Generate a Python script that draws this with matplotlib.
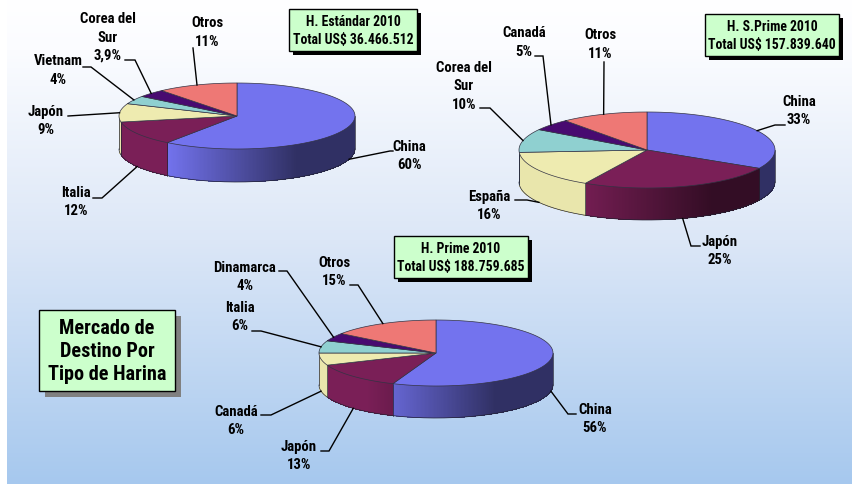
import matplotlib
matplotlib.use("Agg")
import matplotlib.pyplot as plt
from matplotlib.collections import PolyCollection
from matplotlib.colors import to_rgb
from matplotlib import font_manager
from matplotlib.patches import Rectangle
import numpy as np

# narrow bold face if the machine has one, else plain Liberation a bit smaller
have = {f.name for f in font_manager.fontManager.ttflist}
if "Roboto Condensed" in have:
    plt.rcParams['font.family'] = ['Roboto Condensed', 'DejaVu Sans']
    small, boxed, big = 10.6, 9.9, 14.6
else:
    plt.rcParams['font.family'] = ['Liberation Sans', 'DejaVu Sans']
    small, boxed, big = 9.0, 8.6, 12.5

# data
labels1 = ["China", "Italia", "Japón", "Vietnam", "Corea del\nSur", "Otros"]
shares1 = [60, 12, 9, 4, 3.9, 11]
texts1 = ["60%", "12%", "9%", "4%", "3,9%", "11%"]

labels2 = ["China", "Japón", "España", "Corea del\nSur", "Canadá", "Otros"]
shares2 = [33, 25, 16, 10, 5, 11]
texts2 = ["33%", "25%", "16%", "10%", "5%", "11%"]

labels3 = ["China", "Japón", "Canadá", "Italia", "Dinamarca", "Otros"]
shares3 = [56, 13, 6, 6, 4, 15]
texts3 = ["56%", "13%", "6%", "6%", "4%", "15%"]

box1 = "H. Estándar 2010\nTotal US$ 36.466.512"
box2 = "H. S.Prime 2010\nTotal US$ 157.839.640"
box3 = "H. Prime 2010\nTotal US$ 188.759.685"
box4 = "Mercado de\nDestino Por\nTipo de Harina"

colors = ["#7373ee", "#7a1f57", "#eeebb0", "#8fd0d0", "#480a70", "#ee7875"]

# layout, in pixels of the picture
# each label: text centre x, first line y, elbow x, elbow y, end x, end y
pos1 = [(409, 147, 390, 152, 393, 152), (76, 193, 102, 199, 93, 199), (46, 112, 68, 117, 68, 117),
        (58, 61, 91, 68, 83, 68), (108, 19, 135, 61, 125, 61), (207, 23, 193, 49, 193, 49)]
pos2 = [(799, 102, 775, 126, 785, 126), (720, 242, 691, 247, 700, 247), (489, 197, 527, 201, 515, 201),
        (464, 68, 490, 109, 480, 109), (524, 33, 543, 57, 535, 57), (600, 35, 604, 63, 604, 63)]
pos3 = [(595, 410, 568, 415, 576, 415), (299, 447, 329, 452, 321, 452), (236, 412, 271, 416, 261, 416),
        (240, 308, 261, 332, 252, 332), (245, 268, 287, 272, 279, 272), (334, 263, 358, 286, 350, 286)]


def shade(c, k):
    return tuple(v * k for v in to_rgb(c))


def pie3d(ax, shares, cx, cy, rx, ry, depth, labels, texts, pos):
    total = sum(shares)
    edges = np.cumsum([0] + shares) / total * 360
    px = lambda t: cx + rx * np.sin(np.radians(t))
    py = lambda t: cy - ry * np.cos(np.radians(t))

    # side wall, only the front half shows
    polys, cols = [], []
    for i, c in enumerate(colors):
        a, b = max(edges[i], 90), min(edges[i + 1], 270)
        if a >= b:
            continue
        t = np.linspace(a, b, int((b - a) * 1.5) + 2)
        for t0, t1 in zip(t[:-1], t[1:]):
            polys.append([(px(t0), py(t0)), (px(t1), py(t1)), (px(t1), py(t1) + depth), (px(t0), py(t0) + depth)])
            k = np.interp(np.sin(np.radians((t0 + t1) / 2)), [-0.6, 0.5], [1.0, 0.42])
            # the cream slices stay nearly flat in the original
            if c == colors[2]:
                k = 0.98
            cols.append(shade(c, k))
    ax.add_collection(PolyCollection(polys, facecolors=cols, edgecolors="none", antialiaseds=False, zorder=3))
    t = np.linspace(90, 270, 181)
    ax.plot(px(t), py(t) + depth, color="#222233", lw=0.5, zorder=4)
    ax.plot([px(90), px(90)], [py(90), py(90) + depth], color="#222233", lw=0.5, zorder=4)
    ax.plot([px(270), px(270)], [py(270), py(270) + depth], color="#222233", lw=0.5, zorder=4)
    for e in edges[1:-1]:
        if 90 < e < 270:
            ax.plot([px(e), px(e)], [py(e), py(e) + depth], color="#222233", lw=0.5, zorder=4)

    # top face
    for i, c in enumerate(colors):
        t = np.linspace(edges[i], edges[i + 1], 90)
        ax.fill(np.r_[cx, px(t)], np.r_[cy, py(t)], facecolor=c, edgecolor="#333344", lw=0.5, zorder=5)

    # labels and leader lines
    for i in range(len(shares)):
        x, y, ex, ey, fx, fy = pos[i]
        mid = (edges[i] + edges[i + 1]) / 2
        ay = py(mid)
        if 100 < mid < 265:
            ay = ay + depth
        ax.plot([px(mid), ex, fx], [ay, ey, fy], color="black", lw=1.0, zorder=6, solid_joinstyle="miter")
        lines = (labels[i] + "\n" + texts[i]).split("\n")
        for j, s in enumerate(lines):
            ax.text(x, y + j * 18.5, s, ha="center", va="center", fontsize=small, fontweight="bold", zorder=7)


def note(ax, text, x0, y0, x1, y1, step=18, size=None, shadow="black", off=4):
    ax.add_patch(Rectangle((x0 + off, y0 + off), x1 - x0, y1 - y0, facecolor=shadow, edgecolor="none", zorder=8))
    ax.add_patch(Rectangle((x0, y0), x1 - x0, y1 - y0, facecolor="#ccffcc", edgecolor="black", lw=1.0, zorder=9))
    lines = text.split("\n")
    mid = (y0 + y1) / 2 - (len(lines) - 1) * step / 2
    for j, s in enumerate(lines):
        ax.text((x0 + x1) / 2, mid + j * step, s, ha="center", va="center", fontsize=size or boxed,
                fontweight="bold", zorder=10)


fig = plt.figure(figsize=(8.52, 4.85), dpi=100)
ax = fig.add_axes([0, 0, 1, 1])

# page background
stops_y = [0, 50, 240, 485]
stops_c = np.array([to_rgb(c) for c in ["#ffffff", "#fbfcff", "#dce7f7", "#a6c8ee"]])
yy = np.arange(485)
grad = np.stack([np.interp(yy, stops_y, stops_c[:, j]) for j in range(3)], axis=1)[:, None, :]
ax.imshow(grad, extent=(7, 852, 485, 0), aspect="auto", zorder=0)
ax.set_xlim(0, 852)
ax.set_ylim(485, 0)
ax.axis("off")

pie3d(ax, shares1, 237, 117, 118, 33, 33, labels1, texts1, pos1)
pie3d(ax, shares2, 647, 151, 128, 38, 32, labels2, texts2, pos2)
pie3d(ax, shares3, 436, 354, 117, 33, 32, labels3, texts3, pos3)

note(ax, box1, 289, 10, 417, 52)
note(ax, box2, 705, 15, 839, 57)
note(ax, box3, 394, 237, 528, 279)
note(ax, box4, 39, 311, 175, 392, step=23, size=big, shadow="#808080", off=6)

fig.savefig("out.png", dpi=100)
